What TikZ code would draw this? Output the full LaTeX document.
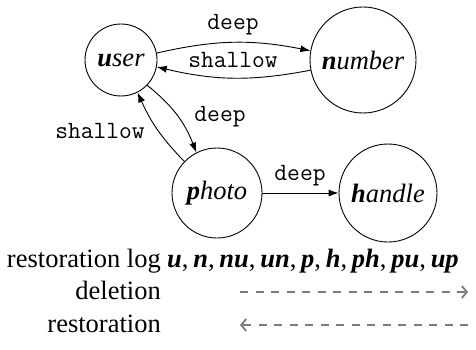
\documentclass[tikz,border=0pt]{standalone}
\usepackage{fontspec}
\setmainfont{Liberation Serif}
\usetikzlibrary{arrows.meta}
\newcommand{\bi}[1]{{\bfseries\itshape #1}}
\newcommand{\sep}{,\hspace{0.18em}}
\definecolor{arrowgray}{HTML}{7A7A7A}
\tikzset{
  state/.style={circle, draw, line width=0.9pt, inner sep=0pt, font=\fontsize{26.5}{30}\selectfont\itshape},
  lbl/.style={font=\fontsize{24.8}{27}\ttfamily, inner sep=0pt},
  edge/.style={line width=0.9pt, -{Latex[length=10pt,width=7pt]}},
  row/.style={font=\fontsize{26.5}{30}\selectfont, inner sep=0pt, anchor=base east},
  grayarrow/.style={draw=arrowgray, line width=2pt, dash pattern=on 8pt off 7.5pt, -{Straight Barb[length=5pt,width=12pt,line width=1.8pt]}}
}
\begin{document}
\begin{tikzpicture}[x=1pt,y=-1pt]
\useasboundingbox (0,0) rectangle (476,350);
\node[state, minimum size=72pt] (user) at (121,60) {\bi{u}ser};
\node[state, minimum size=106pt] (number) at (363,60) {\bi{n}umber};
\node[state, minimum size=90pt] (photo) at (217,193) {\bi{p}hoto};
\node[state, minimum size=98pt] (handle) at (388,193) {\bi{h}andle};

\draw[edge] (user.11) to[bend left=12] (number.170);
\draw[edge] (number.191) to[bend left=12] (user.349);
\draw[edge] (user.316) to[bend left=15] (photo.117);
\draw[edge] (photo.136) to[bend left=10] (user.297);
\draw[edge] (photo) -- (handle);

\node[lbl] (l1) at (233,25) {deep};
\node[lbl] (l2) at (233,60) {shallow};
\node[lbl] (l3) at (220,117) {deep};
\node[lbl] (l4) at (100,131) {shallow};
\node[lbl] (l5) at (300,176) {deep};

\node[row] (r1) at (161,267) {restoration log};
\node[row] (r2) at (161,299) {deletion};
\node[row] (r3) at (161,332) {restoration};
\node[font=\fontsize{26.5}{30}\selectfont, inner sep=0pt, anchor=base west] (log) at (167,267)
  {\bi{u}\sep\bi{n}\sep\bi{nu}\sep\bi{un}\sep\bi{p}\sep\bi{h}\sep\bi{ph}\sep\bi{pu}\sep\bi{up}};

\coordinate (da) at (240,292);
\coordinate (db) at (468,292);
\coordinate (ra) at (468,325);
\coordinate (rb) at (240,325);
\draw[grayarrow] (da) -- (db);
\draw[grayarrow] (ra) -- (rb);
\end{tikzpicture}
\end{document}
